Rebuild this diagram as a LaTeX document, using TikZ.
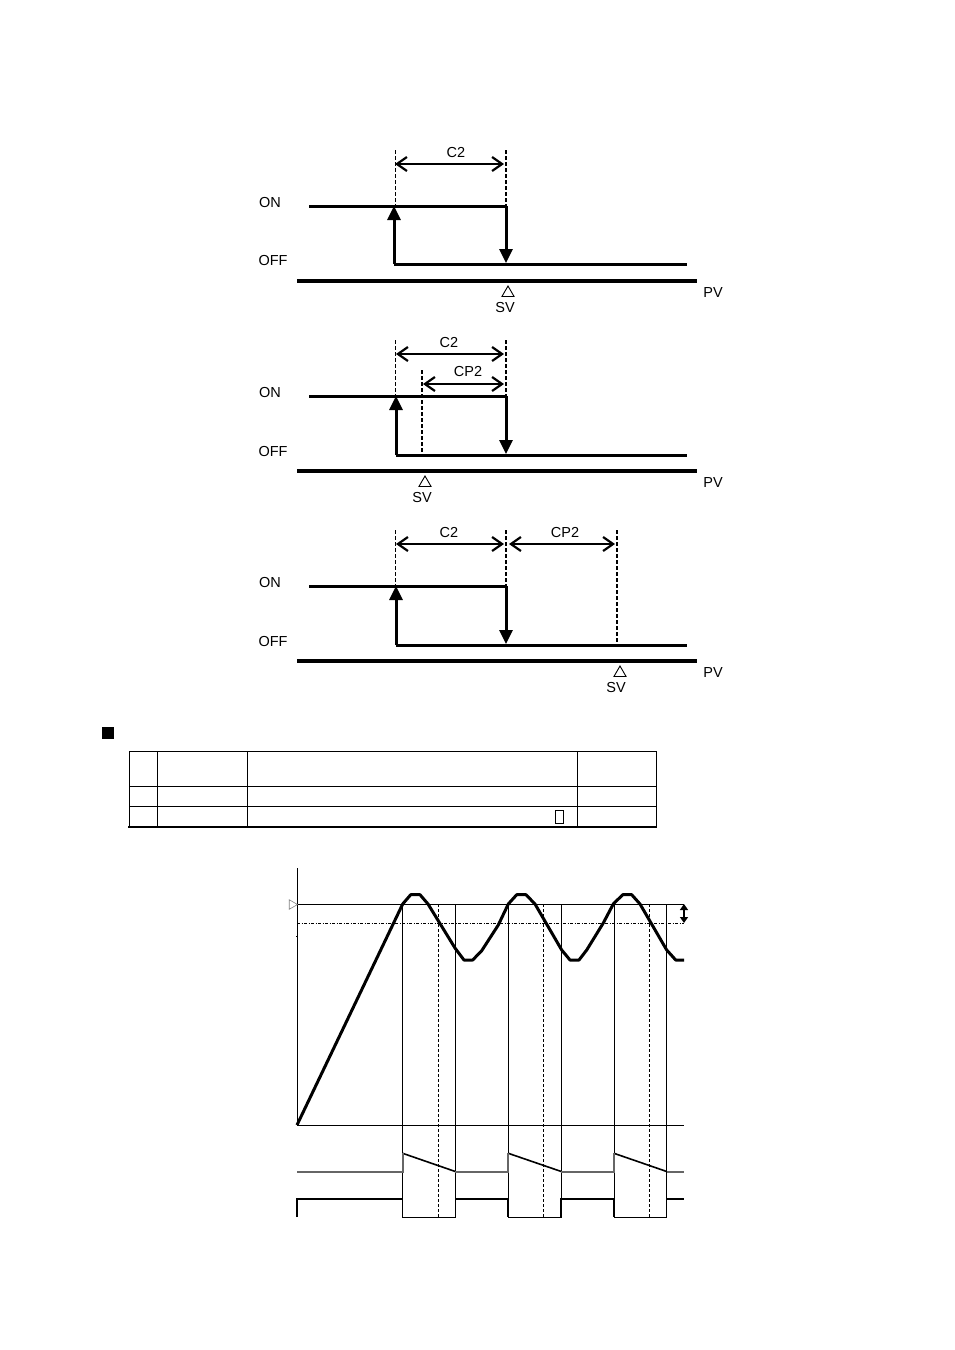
\documentclass[tikz,border=0pt]{standalone}
\usepackage{fontspec}
\setmainfont{Liberation Sans}
\usetikzlibrary{arrows.meta,positioning,shapes.geometric,calc}
\definecolor{hl}{RGB}{0,0,0}
\definecolor{dimmed}{RGB}{130,130,130}
\tikzset{
  lbl/.style={font=\fontsize{14.5}{16}\selectfont, inner sep=0pt},
  stateline/.style={line width=3pt, hl},
  baseaxis/.style={line width=3.6pt, hl},
  edgearrow/.style={line width=3pt, hl, -{Triangle[length=14pt,width=13pt]}},
  span/.style={line width=2.2pt, hl, {Straight Barb[length=10pt,width=14pt]}-{Straight Barb[length=10pt,width=14pt]}},
  guide/.style={line width=1pt, dash pattern=on 4pt off 2pt, hl},
  guideb/.style={line width=1.6pt, dash pattern=on 4pt off 2pt, hl},
  svmark/.style={regular polygon, regular polygon sides=3, draw, line width=0.9pt, minimum size=14pt, inner sep=0pt},
  grid/.style={line width=1pt, hl},
  chartline/.style={line width=1pt, hl},
  pvcurve/.style={line width=3pt, hl, line join=round},
}
\begin{document}
\begin{tikzpicture}[x=1pt,y=-1pt]
\useasboundingbox (0,0) rectangle (954,1350);
% switching panels
\foreach [count = \i from 0] \d/\xu/\ylo in {0/394/264, 190/396/455, 380/396/645}{
\node[lbl] (on\i) at (270,202.5+\d) {ON};
\node[lbl] (off\i) at (273,\ylo-3.5) {OFF};
\node[lbl] (pv\i) at (713,292.5+\d) {PV};
\coordinate (ona\i) at (309,206+\d);
\coordinate (onb\i) at (506,206+\d);
\coordinate (upa\i) at (\xu,\ylo);
\coordinate (upb\i) at (\xu,206+\d);
\coordinate (dnb\i) at (506,\ylo-1);
\coordinate (ofb\i) at (687,\ylo);
\coordinate (basea\i) at (297,281+\d);
\coordinate (baseb\i) at (697,281+\d);
\coordinate (ga\i) at (395,150+\d);
\coordinate (gb\i) at (506,150+\d);
\draw[stateline] (ona\i) -- (onb\i);
\draw[stateline] (upa\i) -- (ofb\i);
\draw[baseaxis] (basea\i) -- (baseb\i);
\draw[edgearrow] (upa\i) -- (upb\i);
\draw[edgearrow] (onb\i) -- (dnb\i);
\draw[guide] (ga\i) -- (ona\i -| ga\i);
\draw[guideb] (gb\i) -- (onb\i);
}
% dimension arrows
\coordinate (c2aa) at (395,164); \coordinate (c2ab) at (504,164);
\coordinate (c2ba) at (396,354); \coordinate (c2bb) at (504,354);
\coordinate (c2ca) at (396,544); \coordinate (c2cb) at (504,544);
\coordinate (cpba) at (423,384); \coordinate (cpbb) at (504,384);
\coordinate (cpca) at (509,544); \coordinate (cpcb) at (615,544);
\draw[span] (c2aa) -- (c2ab);
\draw[span] (c2ba) -- (c2bb);
\draw[span] (c2ca) -- (c2cb);
\draw[span] (cpba) -- (cpbb);
\draw[span] (cpca) -- (cpcb);
\node[lbl] (c2a) at (456,152.5) {C2};
\node[lbl] (c2b) at (449,342.5) {C2};
\node[lbl] (c2c) at (449,532.5) {C2};
\node[lbl] (cpb) at (468,371.5) {CP2};
\node[lbl] (cpc) at (565,532.5) {CP2};
% set point marks
\coordinate (sva) at (422,370); \coordinate (svb) at (422,455);
\coordinate (svc) at (617,530); \coordinate (svd) at (617,645);
\draw[guideb] (sva) -- (svb);
\draw[guideb] (svc) -- (svd);
\node[svmark] (tra) at (508,293) {};
\node[svmark] (trb) at (425,483) {};
\node[svmark] (trc) at (620,673) {};
\node[lbl] (sv0) at (505,307.5) {SV};
\node[lbl] (sv1) at (422,497.5) {SV};
\node[lbl] (sv2) at (616,687.5) {SV};
% table
\node[fill=black, minimum size=12pt, inner sep=0pt] (sq) at (108,733) {};
\foreach \x in {129,157,247,577,656}{
\draw[grid] (\x,751) -- (\x,827);
}
\foreach \y in {751,786,806}{
\draw[grid] (129,\y) -- (656,\y);
}
\draw[line width=2.2pt] (128.4,827) -- (656.6,827);
\node[draw, line width=1pt, minimum width=8pt, minimum height=13pt, inner sep=0pt] (box) at (559,816.5) {};
% chart
\coordinate (org) at (297,1125);
\coordinate (top) at (297,868);
\coordinate (spa) at (297,904);
\coordinate (spb) at (684,904);
\coordinate (ala) at (297,923);
\coordinate (alb) at (684,923);
\coordinate (xend) at (684,1125);
\draw[chartline] (top) -- (org) -- (xend);
\draw[chartline] (spa) -- (spb);
\draw[line width=0.9pt, dash pattern=on 3pt off 1.5pt on 1pt off 1.5pt] (ala) -- (alb);
\draw[line width=1.4pt, {Triangle[length=6pt,width=8pt]}-{Triangle[length=6pt,width=8pt]}] (spb) -- (alb);
\node[regular polygon, regular polygon sides=3, shape border rotate=-90, draw=dimmed, line width=0.6pt, minimum size=11pt, inner sep=0pt] (spmark) at (292,904.5) {};
\node[fill=black, inner sep=0pt, minimum size=1pt] (tick) at (296,936) {};
\foreach \xa/\xd/\xb in {402.7/438.7/455.3, 508.3/543.7/561.3, 614/649.7/666.7}{
\draw[chartline] (\xa,904) -- (\xa,1217) -- (\xb,1217) -- (\xb,904);
\draw[line width=1pt, dash pattern=on 3pt off 2pt] (\xd,904) -- (\xd,1217);
\draw[line width=1.6pt] (\xa,1153.3) -- (\xb,1171.5);
}
\draw[pvcurve] (org) -- (402.7,904) -- (410.7,894.7) -- (420,894.7) -- (428,904) -- (455,948) -- (464,960) -- (472.7,960) -- (481.7,950.7) -- (498.3,925) -- (508.3,904) -- (516.7,894.7) -- (526,894.7) -- (535,904) -- (561.7,950) -- (570,960) -- (579,960) -- (586.7,950) -- (603.3,923) -- (613.3,904) -- (622.7,894.7) -- (631.7,894.7) -- (640,904) -- (666.7,950) -- (675.7,960) -- (684,960);
% output lines
\draw[line width=2pt, black!60] (297,1171.5) -- (402.7,1171.5) -- (402.7,1153.3);
\draw[line width=2pt, black!60] (455.3,1171.5) -- (508.3,1171.5) -- (508.3,1153.3);
\draw[line width=2pt, black!60] (561.3,1171.5) -- (614,1171.5) -- (614,1153.3);
\draw[line width=2pt, black!60] (666.7,1171.5) -- (684,1171.5);
\draw[line width=2.2pt] (297,1217) -- (297,1199) -- (402.7,1199);
\draw[line width=2.2pt] (455.3,1199) -- (508.3,1199) -- (508.3,1217);
\draw[line width=2.2pt] (561.3,1217) -- (561.3,1199) -- (614,1199) -- (614,1217);
\draw[line width=2.2pt] (666.7,1199) -- (684,1199);
\end{tikzpicture}
\end{document}
